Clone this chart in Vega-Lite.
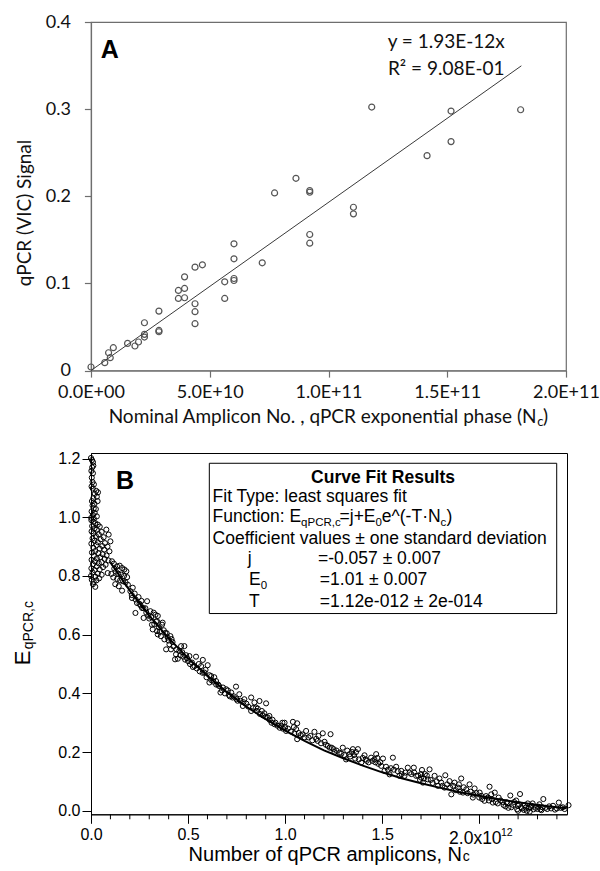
{
  "$schema": "https://vega.github.io/schema/vega-lite/v6.json",
  "padding": {"top": 12, "left": 11, "right": 0, "bottom": 0},
  "background": "white",
  "spacing": 20,
  "config": {"axis": {"grid": false}, "font": "Liberation Sans"},
  "datasets": {
    "a_points": [
      {"x": 0, "y": 0.004}, {"x": 5.8e9, "y": 0.009}, {"x": 7.4e9, "y": 0.0204}, {"x": 8.1e9, "y": 0.0147},
      {"x": 9.4e9, "y": 0.0262}, {"x": 1.54e10, "y": 0.0311}, {"x": 1.85e10, "y": 0.0281}, {"x": 2.0e10, "y": 0.0327},
      {"x": 2.25e10, "y": 0.0548}, {"x": 2.25e10, "y": 0.0415}, {"x": 2.25e10, "y": 0.0384}, {"x": 2.86e10, "y": 0.0682},
      {"x": 2.86e10, "y": 0.046}, {"x": 2.86e10, "y": 0.0445}, {"x": 3.68e10, "y": 0.0919}, {"x": 3.68e10, "y": 0.0827},
      {"x": 3.94e10, "y": 0.0942}, {"x": 3.94e10, "y": 0.0835}, {"x": 3.94e10, "y": 0.1075}, {"x": 4.38e10, "y": 0.1186},
      {"x": 4.38e10, "y": 0.0766}, {"x": 4.38e10, "y": 0.0675}, {"x": 4.38e10, "y": 0.0537}, {"x": 4.69e10, "y": 0.1213},
      {"x": 5.63e10, "y": 0.1018}, {"x": 5.63e10, "y": 0.0827}, {"x": 6.02e10, "y": 0.1454}, {"x": 6.02e10, "y": 0.1282},
      {"x": 6.02e10, "y": 0.1056}, {"x": 6.02e10, "y": 0.1033}, {"x": 7.21e10, "y": 0.1236}, {"x": 7.73e10, "y": 0.2038},
      {"x": 8.63e10, "y": 0.2206}, {"x": 9.21e10, "y": 0.2065}, {"x": 9.21e10, "y": 0.2046}, {"x": 9.21e10, "y": 0.1561},
      {"x": 9.21e10, "y": 0.1461}, {"x": 1.105e11, "y": 0.1874}, {"x": 1.105e11, "y": 0.1798}, {"x": 1.182e11, "y": 0.3024},
      {"x": 1.415e11, "y": 0.2466}, {"x": 1.516e11, "y": 0.2978}, {"x": 1.516e11, "y": 0.2627}, {"x": 1.809e11, "y": 0.2993}
    ],
    "a_fit": [{"x": 0, "y": 0}, {"x": 1.812e11, "y": 0.3497}],
    "a_label": [{"x": 7.87e9, "y": 0.3582, "t": "A"}],
    "a_eq": [{"x": 1.4956e11, "y": 0.37, "t": "y = 1.93E-12x"}, {"x": 1.4956e11, "y": 0.3395, "t": "R² = 9.08E-01"}],
    "a_xtitle_main": [{"x": 1.876e11, "y": -0.0598, "t": "Nominal Amplicon No. , qPCR exponential phase (N"}],
    "a_xtitle_sub": [{"x": 1.879e11, "y": -0.0636, "t": "c"}],
    "a_xtitle_end": [{"x": 1.9036e11, "y": -0.0598, "t": ")"}],
    "b_points": [
      {"x": 0.000, "y": 1.202}, {"x": 0.005, "y": 1.195}, {"x": 0.010, "y": 1.188}, {"x": 0.012, "y": 1.176}, {"x": 0.006, "y": 1.170},
      {"x": 0.002, "y": 1.158}, {"x": 0.010, "y": 1.150}, {"x": 0.004, "y": 1.135}, {"x": 0.008, "y": 1.120}, {"x": 0.015, "y": 1.112},
      {"x": 0.003, "y": 1.105}, {"x": 0.009, "y": 1.098}, {"x": 0.027, "y": 1.090}, {"x": 0.036, "y": 1.085}, {"x": 0.020, "y": 1.080},
      {"x": 0.030, "y": 1.070}, {"x": 0.012, "y": 1.065}, {"x": 0.005, "y": 1.055}, {"x": 0.034, "y": 1.055}, {"x": 0.018, "y": 1.046},
      {"x": 0.008, "y": 1.040}, {"x": 0.014, "y": 1.030}, {"x": 0.025, "y": 1.028}, {"x": 0.003, "y": 1.020}, {"x": 0.019, "y": 1.015},
      {"x": 0.010, "y": 1.008}, {"x": 0.030, "y": 1.003}, {"x": 0.001, "y": 0.998}, {"x": 0.015, "y": 0.995},
      {"x": 0.002, "y": 0.990}, {"x": 0.012, "y": 0.985}, {"x": 0.022, "y": 0.980}, {"x": 0.035, "y": 0.975}, {"x": 0.006, "y": 0.970},
      {"x": 0.045, "y": 0.968}, {"x": 0.018, "y": 0.962}, {"x": 0.030, "y": 0.958}, {"x": 0.079, "y": 0.958}, {"x": 0.003, "y": 0.952},
      {"x": 0.055, "y": 0.950}, {"x": 0.012, "y": 0.945}, {"x": 0.040, "y": 0.942}, {"x": 0.091, "y": 0.941}, {"x": 0.025, "y": 0.936},
      {"x": 0.065, "y": 0.932}, {"x": 0.008, "y": 0.928}, {"x": 0.050, "y": 0.925}, {"x": 0.018, "y": 0.920}, {"x": 0.100, "y": 0.918},
      {"x": 0.035, "y": 0.915}, {"x": 0.072, "y": 0.912}, {"x": 0.002, "y": 0.910}, {"x": 0.028, "y": 0.905}, {"x": 0.058, "y": 0.902},
      {"x": 0.085, "y": 0.900}, {"x": 0.012, "y": 0.896}, {"x": 0.045, "y": 0.893}, {"x": 0.068, "y": 0.890}, {"x": 0.022, "y": 0.885},
      {"x": 0.095, "y": 0.884}, {"x": 0.005, "y": 0.880}, {"x": 0.038, "y": 0.878}, {"x": 0.060, "y": 0.874}, {"x": 0.080, "y": 0.870},
      {"x": 0.015, "y": 0.868}, {"x": 0.048, "y": 0.864}, {"x": 0.030, "y": 0.860}, {"x": 0.070, "y": 0.858}, {"x": 0.003, "y": 0.855},
      {"x": 0.090, "y": 0.853}, {"x": 0.020, "y": 0.850}, {"x": 0.055, "y": 0.847}, {"x": 0.040, "y": 0.843}, {"x": 0.010, "y": 0.840},
      {"x": 0.075, "y": 0.838}, {"x": 0.030, "y": 0.833}, {"x": 0.062, "y": 0.830}, {"x": 0.002, "y": 0.826}, {"x": 0.045, "y": 0.822},
      {"x": 0.018, "y": 0.820}, {"x": 0.086, "y": 0.810}, {"x": 0.008, "y": 0.812}, {"x": 0.035, "y": 0.808}, {"x": 0.055, "y": 0.804},
      {"x": 0.000, "y": 0.800}, {"x": 0.022, "y": 0.798}, {"x": 0.042, "y": 0.792}, {"x": 0.004, "y": 0.787}, {"x": 0.014, "y": 0.780},
      {"x": 0.028, "y": 0.785}, {"x": 0.022, "y": 0.763}, {"x": 0.010, "y": 0.772},
      {"x": 0.108, "y": 0.850}, {"x": 0.118, "y": 0.842}, {"x": 0.134, "y": 0.833}, {"x": 0.148, "y": 0.835}, {"x": 0.160, "y": 0.827},
      {"x": 0.172, "y": 0.822}, {"x": 0.182, "y": 0.816}, {"x": 0.120, "y": 0.825}, {"x": 0.105, "y": 0.807}, {"x": 0.128, "y": 0.815},
      {"x": 0.140, "y": 0.808}, {"x": 0.155, "y": 0.805}, {"x": 0.170, "y": 0.800}, {"x": 0.186, "y": 0.796}, {"x": 0.115, "y": 0.795},
      {"x": 0.135, "y": 0.790}, {"x": 0.150, "y": 0.785}, {"x": 0.165, "y": 0.782}, {"x": 0.178, "y": 0.778}, {"x": 0.143, "y": 0.765},
      {"x": 0.160, "y": 0.750}, {"x": 0.190, "y": 0.770}, {"x": 0.125, "y": 0.772},
      {"x": 0.203, "y": 0.748}, {"x": 0.211, "y": 0.725}, {"x": 0.215, "y": 0.760}, {"x": 0.225, "y": 0.740}, {"x": 0.237, "y": 0.708},
      {"x": 0.229, "y": 0.674}, {"x": 0.245, "y": 0.728}, {"x": 0.263, "y": 0.691}, {"x": 0.289, "y": 0.714}, {"x": 0.271, "y": 0.657},
      {"x": 0.255, "y": 0.700}, {"x": 0.280, "y": 0.690}, {"x": 0.306, "y": 0.680}, {"x": 0.295, "y": 0.665}, {"x": 0.323, "y": 0.675},
      {"x": 0.344, "y": 0.664}, {"x": 0.332, "y": 0.668}, {"x": 0.340, "y": 0.646}, {"x": 0.314, "y": 0.634}, {"x": 0.326, "y": 0.636},
      {"x": 0.318, "y": 0.618}, {"x": 0.366, "y": 0.634}, {"x": 0.369, "y": 0.641}, {"x": 0.344, "y": 0.601}, {"x": 0.340, "y": 0.612},
      {"x": 0.383, "y": 0.606}, {"x": 0.378, "y": 0.584}, {"x": 0.360, "y": 0.595}, {"x": 0.395, "y": 0.590}, {"x": 0.409, "y": 0.595},
      {"x": 0.404, "y": 0.567}, {"x": 0.387, "y": 0.550}, {"x": 0.412, "y": 0.550}, {"x": 0.420, "y": 0.575},
      {"x": 0.438, "y": 0.533}, {"x": 0.433, "y": 0.516}, {"x": 0.447, "y": 0.518}, {"x": 0.464, "y": 0.561}, {"x": 0.481, "y": 0.561},
      {"x": 0.470, "y": 0.540}, {"x": 0.490, "y": 0.530}, {"x": 0.507, "y": 0.527}, {"x": 0.500, "y": 0.510}, {"x": 0.520, "y": 0.505},
      {"x": 0.541, "y": 0.525}, {"x": 0.533, "y": 0.493}, {"x": 0.555, "y": 0.500}, {"x": 0.576, "y": 0.514}, {"x": 0.567, "y": 0.493},
      {"x": 0.590, "y": 0.480}, {"x": 0.601, "y": 0.496}, {"x": 0.584, "y": 0.471}, {"x": 0.610, "y": 0.462}, {"x": 0.619, "y": 0.459},
      {"x": 0.610, "y": 0.437}, {"x": 0.635, "y": 0.455}, {"x": 0.644, "y": 0.442}, {"x": 0.655, "y": 0.430}, {"x": 0.667, "y": 0.403},
      {"x": 0.680, "y": 0.420}, {"x": 0.696, "y": 0.414}, {"x": 0.710, "y": 0.395}, {"x": 0.722, "y": 0.403}, {"x": 0.729, "y": 0.386},
      {"x": 0.747, "y": 0.423}, {"x": 0.764, "y": 0.397}, {"x": 0.755, "y": 0.375}, {"x": 0.782, "y": 0.357}, {"x": 0.790, "y": 0.380},
      {"x": 0.800, "y": 0.365}, {"x": 0.825, "y": 0.386}, {"x": 0.825, "y": 0.340}, {"x": 0.842, "y": 0.369}, {"x": 0.850, "y": 0.352},
      {"x": 0.859, "y": 0.348}, {"x": 0.868, "y": 0.374}, {"x": 0.880, "y": 0.340}, {"x": 0.893, "y": 0.332}, {"x": 0.902, "y": 0.366},
      {"x": 0.910, "y": 0.318}, {"x": 0.919, "y": 0.323},
      {"x": 0.935, "y": 0.310}, {"x": 0.950, "y": 0.300}, {"x": 0.972, "y": 0.283}, {"x": 0.986, "y": 0.300}, {"x": 0.988, "y": 0.280},
      {"x": 0.997, "y": 0.300}, {"x": 1.005, "y": 0.272}, {"x": 1.040, "y": 0.303}, {"x": 1.048, "y": 0.264}, {"x": 1.057, "y": 0.278},
      {"x": 1.062, "y": 0.298}, {"x": 1.062, "y": 0.244}, {"x": 1.080, "y": 0.258}, {"x": 1.108, "y": 0.272}, {"x": 1.120, "y": 0.250},
      {"x": 1.151, "y": 0.269}, {"x": 1.168, "y": 0.238}, {"x": 1.172, "y": 0.255}, {"x": 1.194, "y": 0.264}, {"x": 1.203, "y": 0.235},
      {"x": 1.220, "y": 0.221}, {"x": 1.234, "y": 0.261}, {"x": 1.240, "y": 0.215},
      {"x": 1.254, "y": 0.200}, {"x": 1.280, "y": 0.198}, {"x": 1.297, "y": 0.215}, {"x": 1.314, "y": 0.175}, {"x": 1.332, "y": 0.193},
      {"x": 1.349, "y": 0.210}, {"x": 1.361, "y": 0.178}, {"x": 1.375, "y": 0.210}, {"x": 1.392, "y": 0.164}, {"x": 1.409, "y": 0.189},
      {"x": 1.420, "y": 0.170}, {"x": 1.443, "y": 0.181}, {"x": 1.460, "y": 0.175}, {"x": 1.469, "y": 0.193}, {"x": 1.480, "y": 0.160},
      {"x": 1.495, "y": 0.153}, {"x": 1.504, "y": 0.178}, {"x": 1.512, "y": 0.136}, {"x": 1.538, "y": 0.124}, {"x": 1.555, "y": 0.181},
      {"x": 1.560, "y": 0.140}, {"x": 1.572, "y": 0.150}, {"x": 1.589, "y": 0.119}, {"x": 1.598, "y": 0.136},
      {"x": 1.615, "y": 0.119}, {"x": 1.632, "y": 0.147}, {"x": 1.641, "y": 0.130}, {"x": 1.663, "y": 0.147}, {"x": 1.675, "y": 0.119},
      {"x": 1.701, "y": 0.113}, {"x": 1.705, "y": 0.139}, {"x": 1.710, "y": 0.096}, {"x": 1.720, "y": 0.125}, {"x": 1.735, "y": 0.107},
      {"x": 1.744, "y": 0.141}, {"x": 1.770, "y": 0.119}, {"x": 1.787, "y": 0.085}, {"x": 1.804, "y": 0.096}, {"x": 1.825, "y": 0.121},
      {"x": 1.821, "y": 0.079}, {"x": 1.847, "y": 0.101}, {"x": 1.856, "y": 0.056}, {"x": 1.873, "y": 0.096}, {"x": 1.890, "y": 0.079},
      {"x": 1.907, "y": 0.110}, {"x": 1.916, "y": 0.062}, {"x": 1.933, "y": 0.073}, {"x": 1.950, "y": 0.090}, {"x": 1.967, "y": 0.045},
      {"x": 1.976, "y": 0.076}, {"x": 2.002, "y": 0.062}, {"x": 2.010, "y": 0.051}, {"x": 2.027, "y": 0.034}, {"x": 2.045, "y": 0.045},
      {"x": 2.053, "y": 0.082}, {"x": 2.062, "y": 0.056}, {"x": 2.070, "y": 0.028},
      {"x": 2.080, "y": 0.062}, {"x": 2.100, "y": 0.045}, {"x": 2.120, "y": 0.030}, {"x": 2.140, "y": 0.029}, {"x": 2.160, "y": 0.052},
      {"x": 2.175, "y": 0.020}, {"x": 2.190, "y": 0.035}, {"x": 2.200, "y": 0.017}, {"x": 2.210, "y": 0.057}, {"x": 2.220, "y": 0.008},
      {"x": 2.240, "y": 0.011}, {"x": 2.250, "y": 0.025}, {"x": 2.270, "y": 0.017}, {"x": 2.280, "y": 0.005}, {"x": 2.300, "y": 0.006},
      {"x": 2.310, "y": 0.022}, {"x": 2.330, "y": 0.040}, {"x": 2.340, "y": 0.010}, {"x": 2.360, "y": 0.015}, {"x": 2.380, "y": 0.017},
      {"x": 2.400, "y": 0.008}, {"x": 2.410, "y": 0.028}, {"x": 2.430, "y": 0.012}, {"x": 2.460, "y": 0.019}, {"x": 2.200, "y": 0.000},
      {"x": 2.150, "y": 0.010}, {"x": 2.260, "y": -0.003}, {"x": 2.320, "y": 0.002},
      {"x": 0.21, "y": 0.735}, {"x": 0.23, "y": 0.72}, {"x": 0.25, "y": 0.705}, {"x": 0.26, "y": 0.715}, {"x": 0.27, "y": 0.69},
      {"x": 0.285, "y": 0.675}, {"x": 0.30, "y": 0.655}, {"x": 0.31, "y": 0.66}, {"x": 0.335, "y": 0.645}, {"x": 0.35, "y": 0.625},
      {"x": 0.355, "y": 0.61}, {"x": 0.375, "y": 0.615}, {"x": 0.39, "y": 0.605}, {"x": 0.40, "y": 0.58}, {"x": 0.415, "y": 0.585},
      {"x": 0.425, "y": 0.56}, {"x": 0.44, "y": 0.55}, {"x": 0.455, "y": 0.545}, {"x": 0.46, "y": 0.53}, {"x": 0.475, "y": 0.525},
      {"x": 0.485, "y": 0.515}, {"x": 0.495, "y": 0.52}, {"x": 0.51, "y": 0.50}, {"x": 0.525, "y": 0.49}, {"x": 0.545, "y": 0.485},
      {"x": 0.56, "y": 0.475}, {"x": 0.575, "y": 0.47}, {"x": 0.595, "y": 0.455}, {"x": 0.62, "y": 0.445}, {"x": 0.63, "y": 0.44},
      {"x": 0.645, "y": 0.43}, {"x": 0.66, "y": 0.425}, {"x": 0.675, "y": 0.41}, {"x": 0.69, "y": 0.40}, {"x": 0.705, "y": 0.41},
      {"x": 0.715, "y": 0.39}, {"x": 0.735, "y": 0.39}, {"x": 0.75, "y": 0.38}, {"x": 0.77, "y": 0.375}, {"x": 0.785, "y": 0.37},
      {"x": 0.81, "y": 0.355}, {"x": 0.835, "y": 0.35}, {"x": 0.855, "y": 0.34}, {"x": 0.87, "y": 0.33}, {"x": 0.885, "y": 0.325},
      {"x": 0.90, "y": 0.32}, {"x": 0.92, "y": 0.31}, {"x": 0.93, "y": 0.30}, {"x": 0.945, "y": 0.295}, {"x": 0.96, "y": 0.29},
      {"x": 0.98, "y": 0.29}, {"x": 1.0, "y": 0.285}, {"x": 1.015, "y": 0.28}, {"x": 1.03, "y": 0.27}, {"x": 1.045, "y": 0.285},
      {"x": 1.07, "y": 0.265}, {"x": 1.09, "y": 0.26}, {"x": 1.10, "y": 0.25}, {"x": 1.13, "y": 0.255}, {"x": 1.14, "y": 0.24},
      {"x": 1.16, "y": 0.245}, {"x": 1.185, "y": 0.23}, {"x": 1.21, "y": 0.225}, {"x": 1.23, "y": 0.215}, {"x": 1.25, "y": 0.21},
      {"x": 1.265, "y": 0.205}, {"x": 1.29, "y": 0.195}, {"x": 1.305, "y": 0.19}, {"x": 1.32, "y": 0.205}, {"x": 1.335, "y": 0.185},
      {"x": 1.345, "y": 0.2}, {"x": 1.355, "y": 0.19}, {"x": 1.365, "y": 0.2}, {"x": 1.38, "y": 0.175}, {"x": 1.40, "y": 0.18},
      {"x": 1.415, "y": 0.175}, {"x": 1.43, "y": 0.165}, {"x": 1.45, "y": 0.17}, {"x": 1.465, "y": 0.165}, {"x": 1.475, "y": 0.18},
      {"x": 1.49, "y": 0.165}, {"x": 1.52, "y": 0.15}, {"x": 1.53, "y": 0.14}, {"x": 1.545, "y": 0.145}, {"x": 1.58, "y": 0.135},
      {"x": 1.60, "y": 0.125}, {"x": 1.62, "y": 0.13}, {"x": 1.65, "y": 0.125}, {"x": 1.665, "y": 0.13}, {"x": 1.685, "y": 0.12},
      {"x": 1.695, "y": 0.105}, {"x": 1.70, "y": 0.125}, {"x": 1.715, "y": 0.11}, {"x": 1.73, "y": 0.12}, {"x": 1.75, "y": 0.105},
      {"x": 1.76, "y": 0.095}, {"x": 1.78, "y": 0.1}, {"x": 1.795, "y": 0.11}, {"x": 1.81, "y": 0.085}, {"x": 1.835, "y": 0.09},
      {"x": 1.85, "y": 0.08}, {"x": 1.865, "y": 0.085}, {"x": 1.88, "y": 0.07}, {"x": 1.895, "y": 0.09}, {"x": 1.90, "y": 0.065},
      {"x": 1.92, "y": 0.08}, {"x": 1.94, "y": 0.06}, {"x": 1.955, "y": 0.065}, {"x": 1.97, "y": 0.055}, {"x": 1.985, "y": 0.06},
      {"x": 2.0, "y": 0.045}, {"x": 2.015, "y": 0.04}, {"x": 2.035, "y": 0.05}, {"x": 2.05, "y": 0.035}, {"x": 2.065, "y": 0.04},
      {"x": 2.085, "y": 0.03}, {"x": 2.095, "y": 0.025}, {"x": 2.11, "y": 0.035}, {"x": 2.125, "y": 0.02}, {"x": 2.135, "y": 0.015},
      {"x": 2.145, "y": 0.025}, {"x": 2.165, "y": 0.012}, {"x": 2.18, "y": 0.03}, {"x": 2.195, "y": 0.005}, {"x": 2.205, "y": 0.022},
      {"x": 2.215, "y": 0.012}, {"x": 2.23, "y": 0.003}, {"x": 2.235, "y": 0.02}, {"x": 2.245, "y": 0.0}, {"x": 2.255, "y": 0.008},
      {"x": 2.265, "y": 0.012}, {"x": 2.275, "y": 0.025}, {"x": 2.29, "y": 0.01}, {"x": 2.305, "y": 0.014}, {"x": 2.315, "y": 0.005},
      {"x": 2.325, "y": 0.012}, {"x": 2.35, "y": 0.006}, {"x": 2.37, "y": 0.008}, {"x": 2.39, "y": 0.004}, {"x": 2.42, "y": 0.01},
      {"x": 2.44, "y": 0.006}
    ],
    "b_fit": [
      {"x": 0.1, "y": 0.846}, {"x": 0.2, "y": 0.750}, {"x": 0.3, "y": 0.665}, {"x": 0.4, "y": 0.588}, {"x": 0.5, "y": 0.520},
      {"x": 0.6, "y": 0.459}, {"x": 0.7, "y": 0.404}, {"x": 0.8, "y": 0.355}, {"x": 0.9, "y": 0.312}, {"x": 1.0, "y": 0.273},
      {"x": 1.1, "y": 0.238}, {"x": 1.2, "y": 0.206}, {"x": 1.3, "y": 0.179}, {"x": 1.4, "y": 0.154}, {"x": 1.5, "y": 0.131},
      {"x": 1.6, "y": 0.111}, {"x": 1.7, "y": 0.094}, {"x": 1.8, "y": 0.078}, {"x": 1.9, "y": 0.063}, {"x": 2.0, "y": 0.051},
      {"x": 2.1, "y": 0.039}, {"x": 2.2, "y": 0.029}, {"x": 2.3, "y": 0.020}, {"x": 2.4, "y": 0.012}, {"x": 2.45, "y": 0.009}
    ],
    "b_minor": [
      {"x": 0.1}, {"x": 0.2}, {"x": 0.3}, {"x": 0.4}, {"x": 0.6}, {"x": 0.7}, {"x": 0.8}, {"x": 0.9},
      {"x": 1.1}, {"x": 1.2}, {"x": 1.3}, {"x": 1.4}, {"x": 1.6}, {"x": 1.7}, {"x": 1.8}, {"x": 1.9},
      {"x": 2.1}, {"x": 2.2}, {"x": 2.3}, {"x": 2.4}
    ],
    "b_box": [{"x": 0.6095, "x2": 2.399, "y": 1.184, "y2": 0.672}],
    "b_label": [{"x": 0.1752, "y": 1.0954, "t": "B"}],
    "b_head": [{"x": 1.5044, "y": 1.1175, "t": "Curve Fit Results"}],
    "b_text": [
      {"x": 0.6265, "y": 1.0511, "t": "Fit Type: least squares fit"},
      {"x": 0.6265, "y": 0.9830, "t": "Function: E"},
      {"x": 1.2803, "y": 0.9830, "t": "=j+E"},
      {"x": 1.4982, "y": 0.9830, "t": "e^(-T·N"},
      {"x": 1.8315, "y": 0.9830, "t": ")"},
      {"x": 0.6265, "y": 0.9080, "t": "Coefficient values ± one standard deviation"},
      {"x": 0.8078, "y": 0.8399, "t": "j"},
      {"x": 1.1690, "y": 0.8399, "t": "=-0.057 ± 0.007"},
      {"x": 0.8140, "y": 0.7683, "t": "E"},
      {"x": 1.1788, "y": 0.7683, "t": "=1.01 ± 0.007"},
      {"x": 0.8140, "y": 0.6951, "t": "T"},
      {"x": 1.1788, "y": 0.6951, "t": "=1.12e-012 ± 2e-014"},
      {"x": 1.8444, "y": -0.1125, "t": "2.0x10"}
    ],
    "b_sub": [
      {"x": 1.0824, "y": 0.9693, "t": "qPCR,c"},
      {"x": 1.4657, "y": 0.9693, "t": "0"},
      {"x": 1.8006, "y": 0.9693, "t": "c"},
      {"x": 0.8743, "y": 0.7547, "t": "0"}
    ],
    "b_sup": [{"x": 2.112, "y": -0.0870, "t": "12"}],
    "b_xtitle_main": [{"x": 1.9114, "y": -0.1700, "t": "Number of qPCR amplicons, N"}],
    "b_xtitle_c": [{"x": 1.9150, "y": -0.1700, "t": "c"}],
    "b_ytitle_main": [{"x": -0.3143, "y": 0.4957, "t": "E"}],
    "b_ytitle_sub": [{"x": -0.2988, "y": 0.5503, "t": "qPCR,c"}]
  },
  "vconcat": [
    {
      "width": 475,
      "height": 348.5,
      "view": {"stroke": "#6e6e6e", "strokeWidth": 1.2},
      "layer": [
        {
          "data": {"name": "a_points"},
          "mark": {"type": "point", "shape": "circle", "filled": false, "stroke": "#555555", "strokeWidth": 1.2, "size": 36, "opacity": 1},
          "encoding": {
            "x": {"field": "x", "type": "quantitative", "scale": {"domain": [0, 2e11], "nice": false, "zero": false},
              "axis": {"title": null, "values": [0, 5e10, 1e11, 1.5e11, 2e11],
                "labelExpr": "datum.value < 1e10 ? '0.0E+00' : datum.value < 6e10 ? '5.0E+10' : datum.value < 1.2e11 ? '1.0E+11' : datum.value < 1.7e11 ? '1.5E+11' : '2.0E+11'",
                "labelFont": "Lato", "labelFontSize": 18, "labelColor": "#111111", "labelPadding": 6, "labelOverlap": false,
                "tickSize": 6.6, "tickColor": "#6e6e6e", "tickWidth": 1.2, "domainColor": "#6e6e6e", "domainWidth": 1.2, "labelFlush": false}},
            "y": {"field": "y", "type": "quantitative", "scale": {"domain": [0, 0.4], "nice": false, "zero": false},
              "axis": {"title": "qPCR (VIC) Signal", "values": [0, 0.1, 0.2, 0.3, 0.4],
                "labelExpr": "datum.value == 0 ? '0' : format(datum.value, '.1f')",
                "labelFont": "Lato", "labelFontSize": 18, "labelColor": "#111111", "labelPadding": 14, "labelOverlap": false,
                "tickSize": 6.6, "tickColor": "#6e6e6e", "tickWidth": 1.2, "domainColor": "#6e6e6e", "domainWidth": 1.2,
                "titleFont": "Lato", "titleFontSize": 19, "titleFontWeight": "normal", "titleColor": "#111111",
                "titleX": -57, "titleY": 190.5}}
          }
        },
        {
          "data": {"name": "a_fit"},
          "mark": {"type": "line", "color": "#3a3a3a", "strokeWidth": 1},
          "encoding": {
            "x": {"field": "x", "type": "quantitative", "scale": {"domain": [0, 2e11], "nice": false, "zero": false}},
            "y": {"field": "y", "type": "quantitative", "scale": {"domain": [0, 0.4], "nice": false, "zero": false}}
          }
        },
        {
          "data": {"name": "a_label"},
          "mark": {"type": "text", "font": "Liberation Sans", "fontWeight": "bold", "fontSize": 25, "align": "center", "baseline": "alphabetic", "color": "#000000"},
          "encoding": {
            "x": {"field": "x", "type": "quantitative", "scale": {"domain": [0, 2e11], "nice": false, "zero": false}},
            "y": {"field": "y", "type": "quantitative", "scale": {"domain": [0, 0.4], "nice": false, "zero": false}},
            "text": {"field": "t"}
          }
        },
        {
          "data": {"name": "a_eq"},
          "mark": {"type": "text", "font": "Lato", "fontSize": 19, "align": "center", "baseline": "alphabetic", "color": "#111111"},
          "encoding": {
            "x": {"field": "x", "type": "quantitative", "scale": {"domain": [0, 2e11], "nice": false, "zero": false}},
            "y": {"field": "y", "type": "quantitative", "scale": {"domain": [0, 0.4], "nice": false, "zero": false}},
            "text": {"field": "t"}
          }
        },
        {
          "data": {"name": "a_xtitle_main"},
          "mark": {"type": "text", "font": "Lato", "fontSize": 19, "align": "right", "baseline": "alphabetic", "color": "#111111"},
          "encoding": {
            "x": {"field": "x", "type": "quantitative", "scale": {"domain": [0, 2e11], "nice": false, "zero": false}},
            "y": {"field": "y", "type": "quantitative", "scale": {"domain": [0, 0.4], "nice": false, "zero": false}},
            "text": {"field": "t"}
          }
        },
        {
          "data": {"name": "a_xtitle_sub"},
          "mark": {"type": "text", "font": "Lato", "fontSize": 13, "align": "left", "baseline": "alphabetic", "color": "#111111"},
          "encoding": {
            "x": {"field": "x", "type": "quantitative", "scale": {"domain": [0, 2e11], "nice": false, "zero": false}},
            "y": {"field": "y", "type": "quantitative", "scale": {"domain": [0, 0.4], "nice": false, "zero": false}},
            "text": {"field": "t"}
          }
        },
        {
          "data": {"name": "a_xtitle_end"},
          "mark": {"type": "text", "font": "Lato", "fontSize": 19, "align": "left", "baseline": "alphabetic", "color": "#111111"},
          "encoding": {
            "x": {"field": "x", "type": "quantitative", "scale": {"domain": [0, 2e11], "nice": false, "zero": false}},
            "y": {"field": "y", "type": "quantitative", "scale": {"domain": [0, 0.4], "nice": false, "zero": false}},
            "text": {"field": "t"}
          }
        }
      ]
    },
    {
      "width": 476,
      "height": 361.3,
      "view": {"stroke": "#000000", "strokeWidth": 1},
      "layer": [
        {
          "data": {"name": "b_points"},
          "mark": {"type": "point", "shape": "circle", "filled": false, "stroke": "#000000", "strokeWidth": 1, "size": 26, "opacity": 1},
          "encoding": {
            "x": {"field": "x", "type": "quantitative", "scale": {"domain": [0, 2.452], "nice": false, "zero": false},
              "axis": {"title": null,
                "values": [0, 0.5, 1, 1.5, 2],
                "labelExpr": "datum.value > 1.9 ? '' : format(datum.value, '.1f')",
                "labelFont": "Liberation Sans", "labelFontSize": 16, "labelColor": "#000000", "labelPadding": 3,
                "labelFlush": false, "labelOverlap": false,
                "tickSize": 9,
                "tickColor": "#000000", "tickWidth": 1, "domainColor": "#000000", "domainWidth": 1}},
            "y": {"field": "y", "type": "quantitative", "scale": {"domain": [-0.012, 1.219], "nice": false, "zero": false},
              "axis": {"title": null, "values": [0, 0.2, 0.4, 0.6, 0.8, 1.0, 1.2], "format": ".1f", "labelOverlap": false,
                "labelFont": "Liberation Sans", "labelFontSize": 16, "labelColor": "#000000", "labelPadding": 2,
                "tickSize": 9, "tickColor": "#000000", "tickWidth": 1, "domainColor": "#000000", "domainWidth": 1}}
          }
        },
        {
          "data": {"name": "b_minor"},
          "mark": {"type": "rule", "color": "#000000", "strokeWidth": 1},
          "encoding": {
            "x": {"field": "x", "type": "quantitative", "scale": {"domain": [0, 2.452], "nice": false, "zero": false}},
            "y": {"datum": -0.012, "type": "quantitative", "scale": {"domain": [-0.012, 1.219], "nice": false, "zero": false}},
            "y2": {"datum": -0.029}
          }
        },
        {
          "data": {"name": "b_fit"},
          "mark": {"type": "line", "color": "#000000", "strokeWidth": 2},
          "encoding": {
            "x": {"field": "x", "type": "quantitative", "scale": {"domain": [0, 2.452], "nice": false, "zero": false}},
            "y": {"field": "y", "type": "quantitative", "scale": {"domain": [-0.012, 1.219], "nice": false, "zero": false}}
          }
        },
        {
          "data": {"name": "b_box"},
          "mark": {"type": "rect", "fill": "#ffffff", "stroke": "#000000", "strokeWidth": 1},
          "encoding": {
            "x": {"field": "x", "type": "quantitative", "scale": {"domain": [0, 2.452], "nice": false, "zero": false}},
            "x2": {"field": "x2"},
            "y": {"field": "y", "type": "quantitative", "scale": {"domain": [-0.012, 1.219], "nice": false, "zero": false}},
            "y2": {"field": "y2"}
          }
        },
        {
          "data": {"name": "b_label"},
          "mark": {"type": "text", "font": "Liberation Sans", "fontWeight": "bold", "fontSize": 25, "align": "center", "baseline": "alphabetic", "color": "#000000"},
          "encoding": {
            "x": {"field": "x", "type": "quantitative", "scale": {"domain": [0, 2.452], "nice": false, "zero": false}},
            "y": {"field": "y", "type": "quantitative", "scale": {"domain": [-0.012, 1.219], "nice": false, "zero": false}},
            "text": {"field": "t"}
          }
        },
        {
          "data": {"name": "b_head"},
          "mark": {"type": "text", "font": "Liberation Sans", "fontWeight": "bold", "fontSize": 17.5, "align": "center", "baseline": "alphabetic", "color": "#000000"},
          "encoding": {
            "x": {"field": "x", "type": "quantitative", "scale": {"domain": [0, 2.452], "nice": false, "zero": false}},
            "y": {"field": "y", "type": "quantitative", "scale": {"domain": [-0.012, 1.219], "nice": false, "zero": false}},
            "text": {"field": "t"}
          }
        },
        {
          "data": {"name": "b_text"},
          "mark": {"type": "text", "font": "Liberation Sans", "fontSize": 17.5, "align": "left", "baseline": "alphabetic", "color": "#000000"},
          "encoding": {
            "x": {"field": "x", "type": "quantitative", "scale": {"domain": [0, 2.452], "nice": false, "zero": false}},
            "y": {"field": "y", "type": "quantitative", "scale": {"domain": [-0.012, 1.219], "nice": false, "zero": false}},
            "text": {"field": "t"}
          }
        },
        {
          "data": {"name": "b_sub"},
          "mark": {"type": "text", "font": "Liberation Sans", "fontSize": 11.5, "align": "left", "baseline": "alphabetic", "color": "#000000"},
          "encoding": {
            "x": {"field": "x", "type": "quantitative", "scale": {"domain": [0, 2.452], "nice": false, "zero": false}},
            "y": {"field": "y", "type": "quantitative", "scale": {"domain": [-0.012, 1.219], "nice": false, "zero": false}},
            "text": {"field": "t"}
          }
        },
        {
          "data": {"name": "b_sup"},
          "mark": {"type": "text", "font": "Liberation Sans", "fontSize": 10.5, "align": "left", "baseline": "alphabetic", "color": "#000000"},
          "encoding": {
            "x": {"field": "x", "type": "quantitative", "scale": {"domain": [0, 2.452], "nice": false, "zero": false}},
            "y": {"field": "y", "type": "quantitative", "scale": {"domain": [-0.012, 1.219], "nice": false, "zero": false}},
            "text": {"field": "t"}
          }
        },
        {
          "data": {"name": "b_xtitle_main"},
          "mark": {"type": "text", "font": "Liberation Sans", "fontSize": 20, "align": "right", "baseline": "alphabetic", "color": "#000000"},
          "encoding": {
            "x": {"field": "x", "type": "quantitative", "scale": {"domain": [0, 2.452], "nice": false, "zero": false}},
            "y": {"field": "y", "type": "quantitative", "scale": {"domain": [-0.012, 1.219], "nice": false, "zero": false}},
            "text": {"field": "t"}
          }
        },
        {
          "data": {"name": "b_xtitle_c"},
          "mark": {"type": "text", "font": "Liberation Sans", "fontSize": 14, "align": "left", "baseline": "alphabetic", "color": "#000000"},
          "encoding": {
            "x": {"field": "x", "type": "quantitative", "scale": {"domain": [0, 2.452], "nice": false, "zero": false}},
            "y": {"field": "y", "type": "quantitative", "scale": {"domain": [-0.012, 1.219], "nice": false, "zero": false}},
            "text": {"field": "t"}
          }
        },
        {
          "data": {"name": "b_ytitle_main"},
          "mark": {"type": "text", "font": "Liberation Sans", "fontSize": 22, "angle": 270, "align": "left", "baseline": "alphabetic", "color": "#000000"},
          "encoding": {
            "x": {"field": "x", "type": "quantitative", "scale": {"domain": [0, 2.452], "nice": false, "zero": false}},
            "y": {"field": "y", "type": "quantitative", "scale": {"domain": [-0.012, 1.219], "nice": false, "zero": false}},
            "text": {"field": "t"}
          }
        },
        {
          "data": {"name": "b_ytitle_sub"},
          "mark": {"type": "text", "font": "Liberation Sans", "fontSize": 14, "angle": 270, "align": "left", "baseline": "alphabetic", "color": "#000000"},
          "encoding": {
            "x": {"field": "x", "type": "quantitative", "scale": {"domain": [0, 2.452], "nice": false, "zero": false}},
            "y": {"field": "y", "type": "quantitative", "scale": {"domain": [-0.012, 1.219], "nice": false, "zero": false}},
            "text": {"field": "t"}
          }
        }
      ]
    }
  ]
}
